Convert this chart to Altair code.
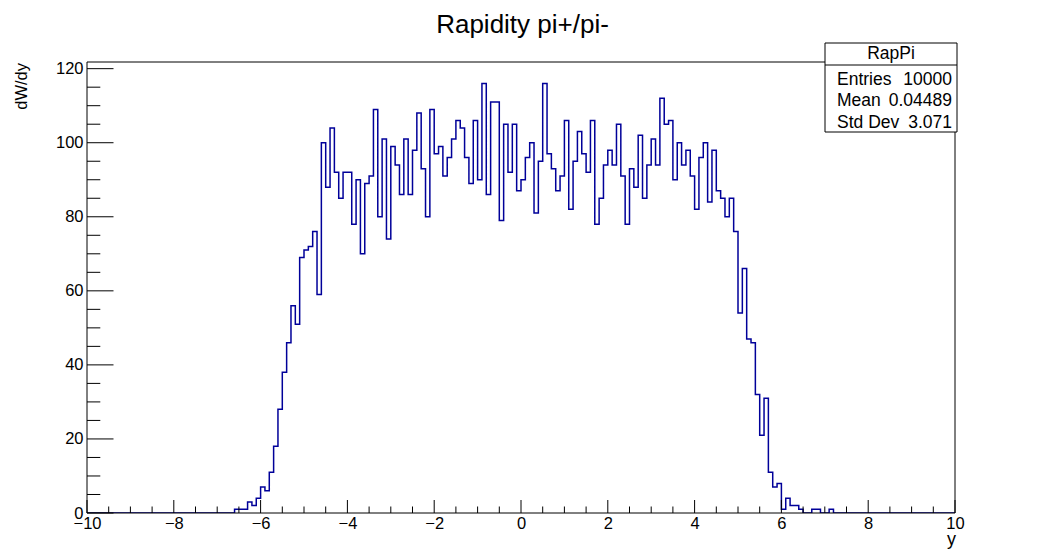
import altair as alt
import pandas as pd

# ---------------- data ----------------
x_lo, x_hi, bin_w = -10.0, 10.0, 0.1
first_bin_left = -6.6
counts_nonzero = [
    1, 1, 1, 3, 2, 4, 7, 6, 11, 18,          # -6.6 .. -5.7
    28, 38, 46, 56, 51, 69, 71, 72, 76, 59,  # -5.6 .. -4.7
    100, 88, 104, 92, 85, 92, 92, 78, 90, 70,  # -4.6 .. -3.7
    89, 91, 109, 80, 101, 74, 99, 94, 86, 101,  # -3.6 .. -2.7
    86, 98, 108, 93, 80, 109, 97, 99, 91, 96,  # -2.6 .. -1.7
    101, 106, 104, 96, 89, 106, 90, 116, 86, 111,  # -1.6 .. -0.7
    111, 79, 105, 92, 105, 87, 90, 96, 100, 81,  # -0.6 .. 0.3
    95, 116, 97, 93, 87, 91, 106, 82, 95, 103,  # 0.4 .. 1.3
    97, 92, 106, 78, 85, 94, 98, 94, 105, 91,  # 1.4 .. 2.3
    78, 93, 88, 102, 85, 94, 101, 94, 112, 105,  # 2.4 .. 3.3
    106, 90, 100, 94, 98, 91, 82, 96, 100, 84,  # 3.4 .. 4.3
    98, 87, 85, 80, 85, 76, 54, 66, 47, 46,  # 4.4 .. 5.3
    32, 21, 31, 11, 7, 8, 1, 4, 2, 2,  # 5.4 .. 6.3
    1, 0, 0, 1, 1, 0, 0, 1,  # 6.4 .. 7.1
]

x_major_ticks = [-10, -8, -6, -4, -2, 0, 2, 4, 6, 8, 10]
x_minor_ticks = [-9.5, -9, -8.5, -7.5, -7, -6.5, -5.5, -5, -4.5, -3.5, -3, -2.5,
                 -1.5, -1, -0.5, 0.5, 1, 1.5, 2.5, 3, 3.5, 4.5, 5, 5.5,
                 6.5, 7, 7.5, 8.5, 9, 9.5]
y_major_ticks = [0, 20, 40, 60, 80, 100, 120]
y_minor_ticks = [5, 10, 15, 25, 30, 35, 45, 50, 55, 65, 70, 75, 85, 90, 95,
                 105, 110, 115]
y_top = 121.8

title_text = "Rapidity pi+/pi-"
x_title = "y"
y_title = "dW/dy"
stats_name = "RapPi"
stats_labels = ["Entries", "Mean", "Std Dev"]
stats_values = ["10000", "0.04489", "3.071"]

# ---------------- build table ----------------
n_bins = int(round((x_hi - x_lo) / bin_w))
lead = int(round((first_bin_left - x_lo) / bin_w))
counts = [0] * lead + counts_nonzero
counts = counts + [0] * (n_bins - len(counts))
edges = [round(x_lo + i * bin_w, 2) for i in range(n_bins)] + [x_hi]
hist = pd.DataFrame({"x": edges, "c": counts + [counts[-1]]})

W, H = 868, 451
FONT = "Liberation Sans"
LINE = "#000099"

xscale = alt.Scale(domain=[x_lo, x_hi], nice=False, zero=False)
yscale = alt.Scale(domain=[0, y_top], nice=False, zero=False)

one = alt.Data(values=[{"a": 1}])

hist_layer = alt.Chart(hist).mark_line(
    interpolate="step-after", color=LINE, strokeWidth=1.5, clip=True
).encode(
    x=alt.X("x:Q", scale=xscale,
            axis=alt.Axis(values=x_major_ticks, tickSize=0, domain=False, grid=False,
                          title="", labelFont=FONT, labelFontSize=16.5,
                          labelColor="black", labelPadding=2, labelFlush=False,
                          labelOverlap=False)),
    y=alt.Y("c:Q", scale=yscale,
            axis=alt.Axis(values=y_major_ticks, tickSize=0, domain=False, grid=False,
                          title="", labelFont=FONT, labelFontSize=16.5,
                          labelColor="black", labelPadding=4, labelFlush=False,
                          labelOverlap=False)),
)

xmaj = alt.Chart(pd.DataFrame({"t": x_major_ticks})).mark_rule(color="black", strokeWidth=1).encode(
    x=alt.X("t:Q", scale=xscale), y=alt.value(H), y2=alt.value(H - 13))
xmin = alt.Chart(pd.DataFrame({"t": x_minor_ticks})).mark_rule(color="black", strokeWidth=1).encode(
    x=alt.X("t:Q", scale=xscale), y=alt.value(H), y2=alt.value(H - 6.5))
ymaj = alt.Chart(pd.DataFrame({"t": y_major_ticks})).mark_rule(color="black", strokeWidth=1).encode(
    y=alt.Y("t:Q", scale=yscale), x=alt.value(0), x2=alt.value(26.5))
ymin = alt.Chart(pd.DataFrame({"t": y_minor_ticks})).mark_rule(color="black", strokeWidth=1).encode(
    y=alt.Y("t:Q", scale=yscale), x=alt.value(0), x2=alt.value(13.3))

frame = alt.Chart(one).mark_rect(fillOpacity=0, stroke="black", strokeWidth=1).encode(
    x=alt.value(0), x2=alt.value(W), y=alt.value(0), y2=alt.value(H))

# stats box
bx0, bx1, by0, by1, bsep = 738, 870, -19, 70, 3
row_y = [22.6, 44.3, 66]
box = alt.Chart(one).mark_rect(fill="white", stroke="black", strokeWidth=1).encode(
    x=alt.value(bx0), x2=alt.value(bx1), y=alt.value(by0), y2=alt.value(by1))
sep = alt.Chart(one).mark_rule(color="black", strokeWidth=1).encode(
    x=alt.value(bx0), x2=alt.value(bx1), y=alt.value(bsep))
box_title = alt.Chart(one).mark_text(font=FONT, fontSize=17.5, align="center",
                                     baseline="alphabetic", color="black").encode(
    x=alt.value((bx0 + bx1) / 2), y=alt.value(-3), text=alt.value(stats_name))
stats_layers = []
for i in range(len(stats_labels)):
    stats_layers.append(alt.Chart(one).mark_text(
        font=FONT, fontSize=17.5, align="left", baseline="alphabetic", color="black"
    ).encode(x=alt.value(bx0 + 12), y=alt.value(row_y[i]), text=alt.value(stats_labels[i])))
    stats_layers.append(alt.Chart(one).mark_text(
        font=FONT, fontSize=17.5, align="right", baseline="alphabetic", color="black"
    ).encode(x=alt.value(bx1 - 5), y=alt.value(row_y[i]), text=alt.value(stats_values[i])))

title_mark = alt.Chart(one).mark_text(font=FONT, fontSize=26, align="center",
                                      baseline="alphabetic", color="black").encode(
    x=alt.value(435.5), y=alt.value(-28.7), text=alt.value(title_text))
ytitle_mark = alt.Chart(one).mark_text(font=FONT, fontSize=16.5, align="right",
                                       baseline="middle", angle=270, color="black").encode(
    x=alt.value(-65), y=alt.value(1), text=alt.value(y_title))
xtitle_mark = alt.Chart(one).mark_text(font=FONT, fontSize=18, align="right",
                                       baseline="alphabetic", color="black").encode(
    x=alt.value(W + 1), y=alt.value(483), text=alt.value(x_title))

chart = alt.layer(
    hist_layer, frame, xmaj, xmin, ymaj, ymin, box, sep, box_title, *stats_layers,
    title_mark, ytitle_mark, xtitle_mark
).properties(
    width=W, height=H,
    padding={"left": 79, "top": 54, "right": 78, "bottom": 36},
    autosize=alt.AutoSizeParams(type="none"),
    background="white",
).configure_view(strokeWidth=0)

chart.save("out.html", embed_options={"renderer": "svg", "actions": False})
